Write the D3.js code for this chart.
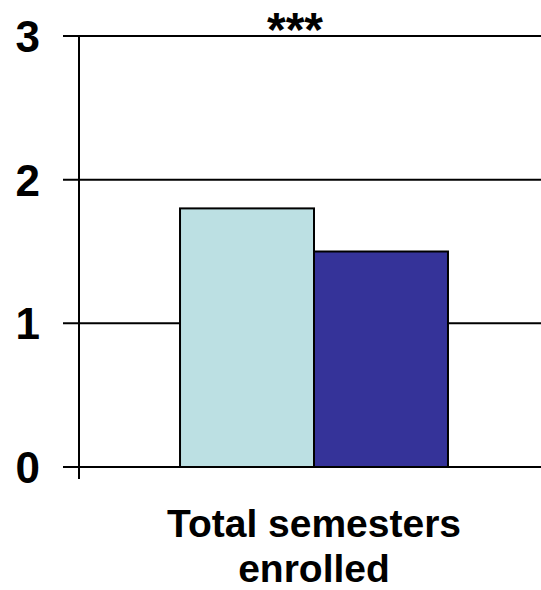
<!DOCTYPE html>
<html>
<head>
<meta charset="utf-8">
<script src="https://cdn.jsdelivr.net/npm/d3@7"></script>
<style>
  body { margin: 0; background: #fff; }
  text { font-family: Arial, "Liberation Sans", sans-serif; font-weight: bold; fill: #000; }
</style>
</head>
<body>
<svg id="chart" width="541" height="590"></svg>
<script>
// data
var categories = ["Total semesters enrolled"];
var seriesNames = ["Group A", "Group B"];
var seriesValues = [[1.80], [1.50]];
var seriesColors = ["#bce0e3", "#353399"];
var yTicks = [0, 1, 2, 3];
var significance = ["***"];

var svg = d3.select("#chart");

var plotLeft = 79, plotRight = 549, plotTop = 36, plotBottom = 467;

var x0 = d3.scaleBand()
    .domain(categories)
    .range([plotLeft, plotRight])
    .paddingOuter(0.377)
    .paddingInner(0);

var x1 = d3.scaleBand()
    .domain(seriesNames)
    .range([0, x0.bandwidth()]);

var y = d3.scaleLinear().domain([0, 3]).range([plotBottom, plotTop]);

// gridlines
svg.append("g")
  .selectAll("line")
  .data(yTicks.filter(function(d) { return d > 0; }))
  .join("line")
    .attr("x1", plotLeft - 16)
    .attr("x2", 541)
    .attr("y1", function(d) { return y(d); })
    .attr("y2", function(d) { return y(d); })
    .attr("stroke", "#000")
    .attr("stroke-width", 2);

// bars
var rows = [];
categories.forEach(function(c, i) {
  seriesNames.forEach(function(s, j) {
    rows.push({cat: c, series: s, value: seriesValues[j][i], color: seriesColors[j]});
  });
});

svg.append("g")
  .selectAll("rect")
  .data(rows)
  .join("rect")
    .attr("x", function(d) { return x0(d.cat) + x1(d.series); })
    .attr("y", function(d) { return y(d.value); })
    .attr("width", x1.bandwidth())
    .attr("height", function(d) { return y(0) - y(d.value); })
    .attr("fill", function(d) { return d.color; })
    .attr("stroke", "#000")
    .attr("stroke-width", 2);

// zero line + y axis
svg.append("line")
    .attr("x1", plotLeft - 16).attr("x2", 541)
    .attr("y1", y(0)).attr("y2", y(0))
    .attr("stroke", "#000").attr("stroke-width", 2);

svg.append("line")
    .attr("x1", plotLeft).attr("x2", plotLeft)
    .attr("y1", y(3)).attr("y2", y(0) + 12)
    .attr("stroke", "#000").attr("stroke-width", 2);

// tick labels
svg.append("g")
  .selectAll("text")
  .data(yTicks)
  .join("text")
    .attr("x", 40)
    .attr("y", function(d) { return y(d); })
    .attr("dy", "0.36em")
    .attr("text-anchor", "end")
    .style("font-size", "44px")
    .text(function(d) { return d; });

// significance stars
svg.append("text")
    .attr("x", 295)
    .attr("y", 46)
    .attr("text-anchor", "middle")
    .style("font-size", "48px")
    .text(significance[0]);

// category label, two lines
var cx = x0(categories[0]) + x0.bandwidth() / 2;
var lbl = svg.append("text")
    .attr("text-anchor", "middle")
    .style("font-size", "39px");
lbl.append("tspan")
    .attr("x", cx)
    .attr("y", 537)
    .text("Total semesters");
lbl.append("tspan")
    .attr("x", cx)
    .attr("y", 582)
    .text("enrolled");
</script>
</body>
</html>
